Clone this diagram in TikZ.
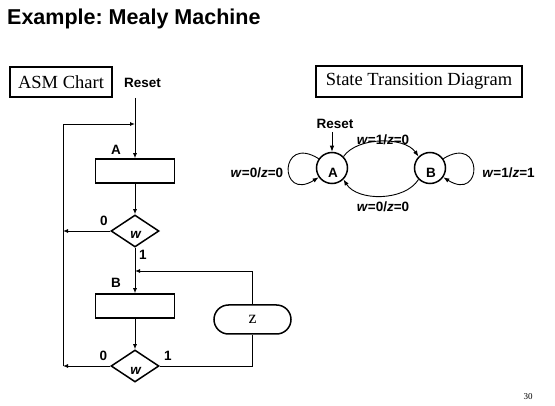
\documentclass[tikz,border=0pt]{standalone}
\usepackage{fontspec}
\setmainfont{Liberation Serif}
\setsansfont{Liberation Sans}
\usetikzlibrary{arrows.meta,shapes.geometric}
\frenchspacing
\begin{document}
\begin{tikzpicture}[x=1pt,y=-1pt,
  lbl/.style={font=\sffamily\bfseries\fontsize{13.5}{14}\selectfont, inner sep=0pt},
  ttlbox/.style={font=\rmfamily\fontsize{18.5}{19}\selectfont, draw, line width=1.2pt, inner sep=0pt},
  abox/.style={draw, line width=1.5pt, minimum width=79pt, minimum height=24pt, inner sep=0pt},
  dmd/.style={diamond, draw, line width=1.5pt, minimum width=48pt, minimum height=32pt, inner sep=0pt},
  conn/.style={line width=0.9pt},
  arr/.style={conn, -{Latex[length=5pt,width=4pt]}},
  st/.style={circle, draw, line width=1.5pt, minimum size=31pt, inner sep=0pt},
  sarr/.style={line width=0.9pt, -{Latex[length=6pt,width=4.5pt]}},
]
\useasboundingbox (0,0) rectangle (555,406);

% title
\node[anchor=base west, font=\sffamily\bfseries\fontsize{21.5}{22}\selectfont, inner sep=0pt] (title) at (7,25) {Example: Mealy Machine};

% ---------- ASM chart ----------
\node[ttlbox, minimum width=102pt, minimum height=30pt] (asm) at (61,82) {ASM Chart};
\node[lbl] (reset1) at (142.5,83) {Reset};

\node[abox] (boxA) at (135,171) {};
\node[lbl] (labA) at (116,149.5) {A};
\node[dmd] (d1) at (135,231) {};
\node[lbl] (w1) at (136,235) {\textit{w}};
\node[lbl] (d1zero) at (104,220.5) {0};
\node[lbl] (d1one) at (143,255) {1};

\node[abox] (boxB) at (135,306) {};
\node[lbl] (labB) at (116,282.5) {B};
\node[dmd] (d2) at (135,366) {};
\node[lbl] (w2) at (136,370.5) {\textit{w}};
\node[lbl] (d2zero) at (103.5,356) {0};
\node[lbl] (d2one) at (168,356) {1};

\node[draw, line width=1.5pt, rounded corners=14.5pt, minimum width=77pt, minimum height=29pt,
      inner sep=0pt, font=\rmfamily\fontsize{18}{18}\selectfont] (zbox) at (252.5,319.5) {z};

\coordinate (rs) at (135,98);
\coordinate (j) at (135,124);
\coordinate (lt) at (63,124);
\coordinate (lm) at (63,231);
\coordinate (lb) at (63,366);
\coordinate (m) at (135,271);

\draw[arr] (rs) -- (boxA.north);
\draw[conn] (lb) -- (lt);
\draw[arr] (lt) -- (j);
\draw[arr] (boxA.south) -- (d1.north);
\draw[arr] (d1.west) -- (lm);
\draw[arr] (d1.south) -- (boxB.north);
\draw[arr] (zbox.north) |- (m);
\draw[arr] (boxB.south) -- (d2.north);
\draw[arr] (d2.west) -- (lb);
\draw[conn] (d2.east) -| (zbox.south);

% ---------- State transition diagram ----------
\node[ttlbox, minimum width=206pt, minimum height=31pt] (std) at (419,81.5) {State Transition Diagram};

\node[st] (A) at (332,168) {};
\node[st] (B) at (430,168) {};
\node[lbl] (Atxt) at (333,172.5) {A};
\node[lbl] (Btxt) at (431,172.5) {B};

\node[lbl] (reset2) at (335,124) {Reset};
\coordinate (rs2) at (332,132);
\draw[sarr] (rs2) -- (A.north);

\draw[sarr] (A.45) .. controls +(14,-20) and +(-14,-20) .. (B.135);
\draw[sarr] (B.225) .. controls +(-14,22) and +(14,22) .. (A.315);
\draw[sarr] (A.145) .. controls +(-40,-25) and +(-40,25) .. (A.215);
\draw[sarr] (B.35) .. controls +(40,-25) and +(40,25) .. (B.-35);

\node[lbl] (ltop) at (383,140) {\textit{w}=1/\textit{z}=0};
\node[lbl] (lbot) at (383,207) {\textit{w}=0/\textit{z}=0};
\node[lbl] (lleft) at (257,173) {\textit{w}=0/\textit{z}=0};
\node[lbl] (lright) at (508.5,173) {\textit{w}=1/\textit{z}=1};

% page number
\node[font=\rmfamily\fontsize{9}{9}\selectfont, inner sep=0pt] (pg) at (528,397) {30};
\end{tikzpicture}
\end{document}
